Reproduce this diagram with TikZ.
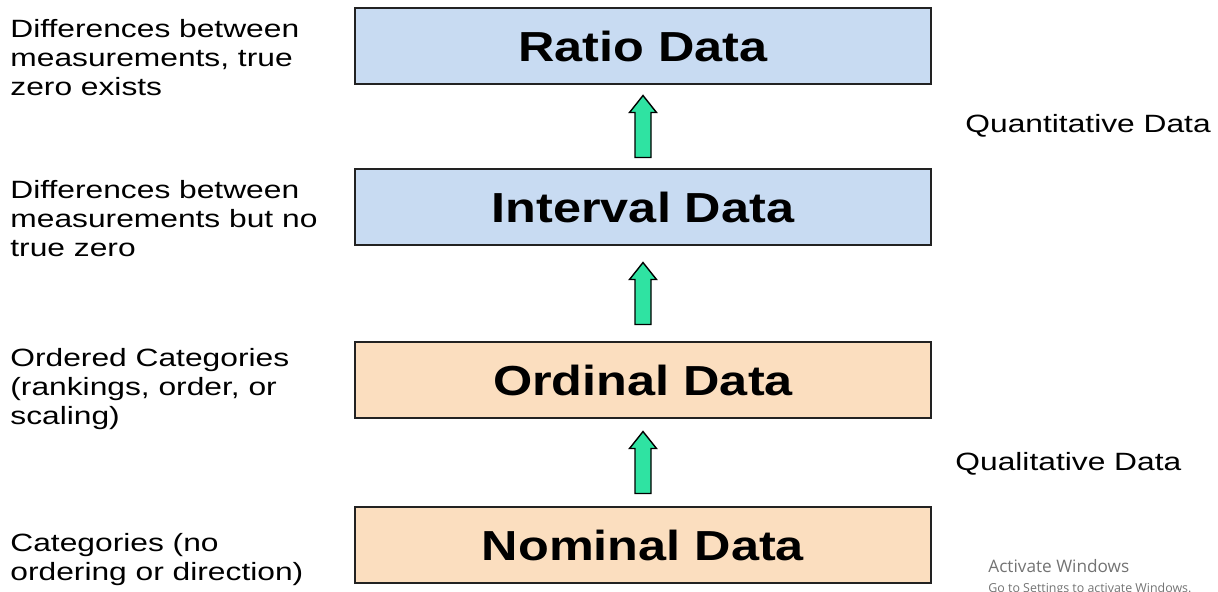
\documentclass[tikz,border=0pt]{standalone}
\usepackage{fontspec}
\setmainfont{Liberation Sans}
\newfontfamily\notefont[FakeStretch=1.27]{Liberation Sans}
\newfontfamily\titlefont[FakeStretch=1.2]{Liberation Sans}
\newfontfamily\winfont{Open Sans}
\usetikzlibrary{positioning,calc}
\definecolor{quantblue}{HTML}{C8DBF2}
\definecolor{qualorange}{HTML}{FBDEBF}
\definecolor{arrowgreen}{HTML}{2FE3A2}
\definecolor{boxline}{HTML}{222222}

\tikzset{
  levelbox/.style={draw=boxline,line width=1pt,minimum width=288pt,minimum height=38pt,
    inner sep=0pt,font=\titlefont\fontsize{21}{24}\selectfont\bfseries},
  sidenote/.style={anchor=north west,align=left,inner sep=0pt,
    font=\notefont\fontsize{12.5}{14.5}\selectfont},
  groupnote/.style={anchor=west,inner sep=0pt,font=\notefont\fontsize{12.5}{14.5}\selectfont},
  uparrow/.pic={
    \draw[black,line width=0.7pt,fill=arrowgreen,line join=miter]
      (-8,31) -- (8,31) -- (8,-14) -- (13.5,-14) -- (0,-31) -- (-13.5,-14) -- (-8,-14) -- cycle;
  },
}

\begin{document}
\begin{tikzpicture}[x=0.5pt,y=-0.5pt]
  \useasboundingbox (0,0) rectangle (1218,591);
  \clip (0,0) rectangle (1218,591);

  % the four measurement levels
  \node[levelbox,fill=quantblue]  (ratio)    at (643,46)  {Ratio Data};
  \node[levelbox,fill=quantblue]  (interval) at (643,207) {Interval Data};
  \node[levelbox,fill=qualorange] (ordinal)  at (643,380) {Ordinal Data};
  \node[levelbox,fill=qualorange] (nominal)  at (643,545) {Nominal Data};

  % arrows between the levels
  \coordinate (up1) at ($(ratio.south)!0.5!(interval.north)$);
  \coordinate (up2) at ($(interval.south)!0.5!(ordinal.north)$);
  \coordinate (up3) at ($(ordinal.south)!0.5!(nominal.north)$);
  \foreach \c in {up1,up2,up3}
    \pic at (\c) {uparrow};

  % descriptions on the left
  \node[sidenote] (ratiotxt)    at (10,19)  {Differences between\\measurements, true\\zero exists};
  \node[sidenote] (intervaltxt) at (10,180) {Differences between\\measurements but no\\true zero};
  \node[sidenote] (ordinaltxt)  at (10,348) {Ordered Categories\\(rankings, order, or\\scaling)};
  \node[sidenote] (nominaltxt)  at (10,533) {Categories (no\\ordering or direction)};

  % groups on the right
  \node[groupnote] (quant) at (965,126) {Quantitative Data};
  \node[groupnote] (qual)  at (955,464) {Qualitative Data};

  % watermark
  \node[anchor=north west,inner sep=0pt,text=black!55,font=\winfont\fontsize{8.6}{10}\selectfont]
    (act) at (988,559) {Activate Windows};
  \node[anchor=north west,inner sep=0pt,text=black!55,font=\winfont\fontsize{6.2}{7}\selectfont]
    (actsub) at (988,583) {Go to Settings to activate Windows.};
\end{tikzpicture}
\end{document}
